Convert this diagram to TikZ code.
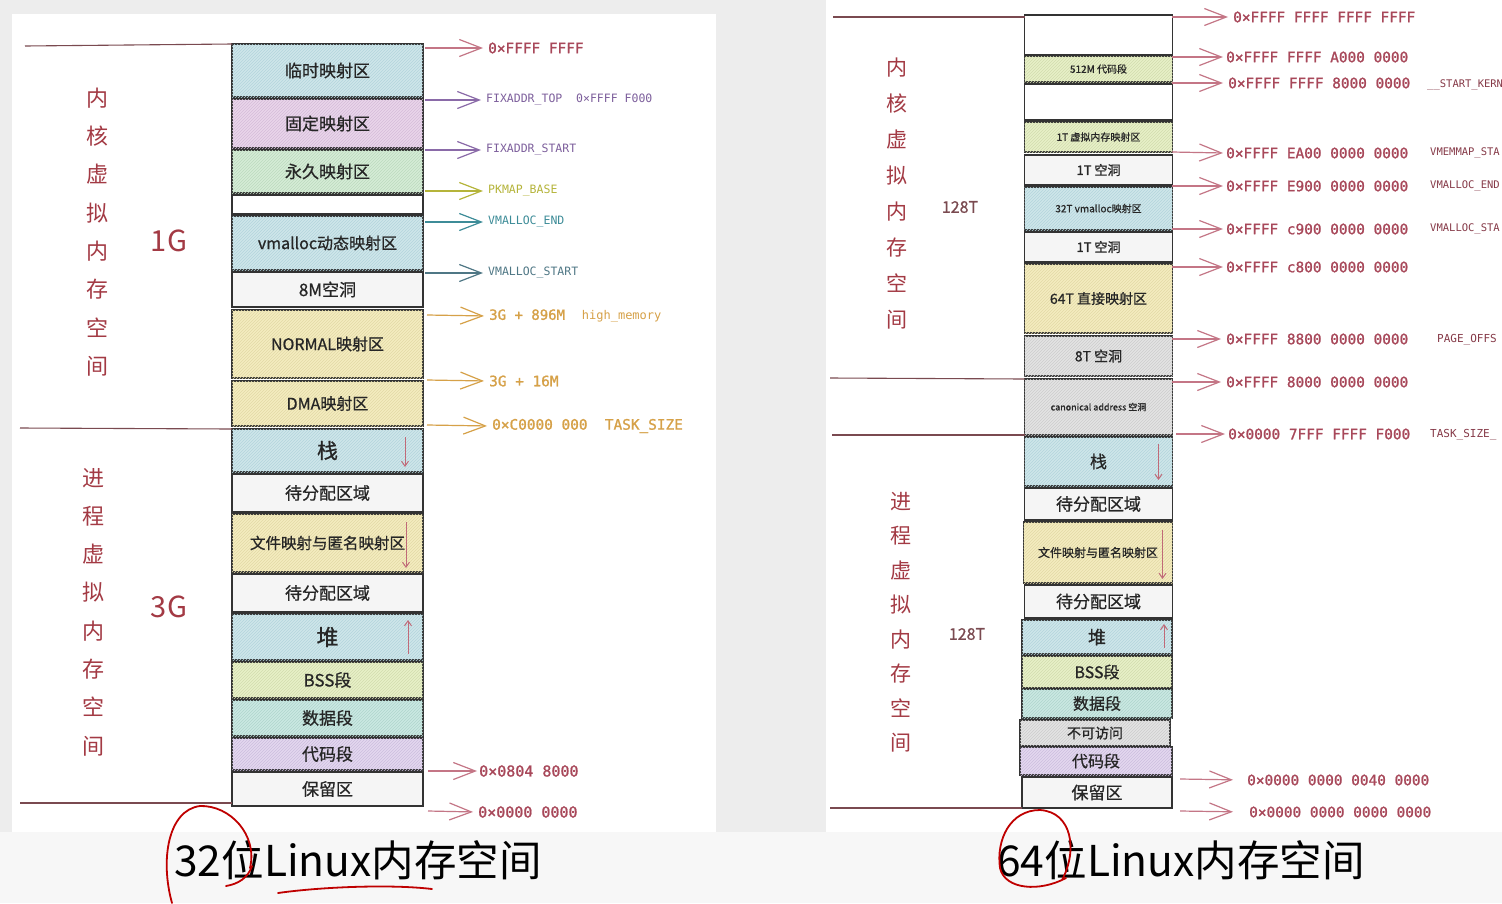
\documentclass[tikz,border=0pt]{standalone}
\usepackage{fontspec}
\usetikzlibrary{arrows.meta,patterns,calc}
\newfontfamily\cjk{Noto Sans CJK SC}
\newfontfamily\cjkb{Noto Sans CJK SC}[FakeBold=0.8]
\newfontfamily\monof{DejaVu Sans Mono}[FakeBold=1.2]
\newfontfamily\monol{DejaVu Sans Mono}
\definecolor{bg}{HTML}{EDEDED}
\definecolor{cblue}{HTML}{CFE6EA}
\definecolor{hblue}{HTML}{B3D4DC}
\definecolor{cpink}{HTML}{E9D6EA}
\definecolor{hpink}{HTML}{D5BCD9}
\definecolor{cgreen}{HTML}{D6ECD6}
\definecolor{hgreen}{HTML}{BCDABE}
\definecolor{cyel}{HTML}{F4ECC0}
\definecolor{hyel}{HTML}{E2D9A6}
\definecolor{cyg}{HTML}{E7F0C8}
\definecolor{hyg}{HTML}{D2DCAE}
\definecolor{cteal}{HTML}{CBE8E2}
\definecolor{hteal}{HTML}{AFD5CD}
\definecolor{cpurp}{HTML}{E3D8EF}
\definecolor{hpurp}{HTML}{CCBEDE}
\definecolor{cwhite}{HTML}{F5F5F5}
\definecolor{cgray}{HTML}{E3E3E3}
\definecolor{hgray}{HTML}{CDCDCD}
\definecolor{sred}{HTML}{A8485A}
\definecolor{ared}{HTML}{C47686}
\definecolor{spurp}{HTML}{7D5F9C}
\definecolor{apurp}{HTML}{8A6AA8}
\definecolor{sgold}{HTML}{B5B43A}
\definecolor{steal}{HTML}{3D8C98}
\definecolor{sslate}{HTML}{4F7785}
\definecolor{sorange}{HTML}{D6A148}
\definecolor{titred}{HTML}{A33A44}
\definecolor{divline}{HTML}{7A4A50}
\definecolor{inarr}{HTML}{C06A78}
\begin{document}
\begin{tikzpicture}[x=1pt,y=-1pt,
  blk/.style={draw=black!80, line width=1.3pt, inner sep=0pt, outer sep=0pt,
    text=black!85, font=\cjkb\fontsize{17}{17}\selectfont},
  hatch/.style={postaction={pattern=north east lines, pattern color=#1}},
  lw/.style={minimum width=191pt},
  rw/.style={minimum width=148pt},
  lab/.style={anchor=west, inner sep=2pt, font=\monof\fontsize{14.4}{14.4}\selectfont},
  slab/.style={anchor=west, inner sep=2pt, font=\monol\fontsize{11.5}{11.5}\selectfont},
  arr/.style={-{Straight Barb[length=22pt,width=17pt,line width=1.2pt]}, line width=1.2pt, shorten >=3pt},
  inar/.style={-{Straight Barb[length=5pt,width=7pt]}, line width=1pt, draw=inarr},
  divl/.style={draw=divline, line width=1.1pt},
  vtext/.style={align=center, text=titred, font=\cjk\fontsize{22}{38.3}\selectfont},
]
\useasboundingbox (0,0) rectangle (1502,903);
\fill[bg] (0,0) rectangle (1502,903);
\fill[white] (12,14) rectangle (716,832);
\fill[white] (826,0) rectangle (1502,832);
\fill[white!97!black] (0,832) rectangle (1502,903);

% ---------------- left column ----------------
\node[blk,lw,minimum height=53pt,fill=cblue,hatch=hblue] (k1) at (327.5,70.5) {临时映射区};
\node[blk,lw,minimum height=49pt,fill=cpink,hatch=hpink] (k2) at (327.5,123.5) {固定映射区};
\node[blk,lw,minimum height=43pt,fill=cgreen,hatch=hgreen] (k3) at (327.5,171.5) {永久映射区};
\node[blk,lw,minimum height=19pt,fill=white] (k4) at (327.5,204.5) {};
\node[blk,lw,minimum height=54pt,fill=cblue,hatch=hblue,font=\cjkb\fontsize{16}{16}\selectfont] (k5) at (327.5,243) {vmalloc动态映射区};
\node[blk,lw,minimum height=35pt,fill=cwhite] (k6) at (327.5,289.5) {8M空洞};
\node[blk,lw,minimum height=68pt,fill=cyel,hatch=hyel,font=\cjkb\fontsize{16}{16}\selectfont] (k7) at (327.5,344) {NORMAL映射区};
\node[blk,lw,minimum height=45pt,fill=cyel,hatch=hyel,font=\cjkb\fontsize{16}{16}\selectfont] (k8) at (327.5,403.5) {DMA映射区};
\node[blk,lw,minimum height=43pt,fill=cblue,hatch=hblue,font=\cjkb\fontsize{21}{21}\selectfont] (u1) at (327.5,450.5) {栈};
\node[blk,lw,minimum height=38pt,fill=cwhite] (u2) at (327.5,493) {待分配区域};
\node[blk,lw,minimum height=58pt,fill=cyel,hatch=hyel,font=\cjkb\fontsize{15.5}{15.5}\selectfont] (u3) at (327.5,543) {文件映射与匿名映射区\hspace{8pt}};
\node[blk,lw,minimum height=38pt,fill=cwhite] (u4) at (327.5,593) {待分配区域};
\node[blk,lw,minimum height=46pt,fill=cblue,hatch=hblue,font=\cjkb\fontsize{22}{22}\selectfont] (u5) at (327.5,637) {堆};
\node[blk,lw,minimum height=36pt,fill=cyg,hatch=hyg] (u6) at (327.5,680) {BSS段};
\node[blk,lw,minimum height=36pt,fill=cteal,hatch=hteal] (u7) at (327.5,718) {数据段};
\node[blk,lw,minimum height=32pt,fill=cpurp,hatch=hpurp] (u8) at (327.5,754) {代码段};
\node[blk,lw,minimum height=34pt,fill=cwhite] (u9) at (327.5,789) {保留区};

\draw[inar] ($(u1.north east)+(-18,8)$) -- ($(u1.south east)+(-18,-5)$);
\draw[inar] ($(u3.north east)+(-17,8)$) -- ($(u3.south east)+(-17,-4)$);
\draw[inar] ($(u5.south east)+(-15,-6)$) -- ($(u5.north east)+(-15,6)$);

% left dividers
\coordinate (ld1a) at (25,46);  \draw[divl] (ld1a) -- (k1.north west);
\coordinate (ld2a) at (20,428); \draw[divl] (ld2a) -- (u1.north west);
\coordinate (ld3a) at (20,803); \draw[divl] (ld3a) -- ($(u9.south west)+(0,-3)$);

% left side texts
\node[vtext] (lk) at (97,232) {内\\核\\虚\\拟\\内\\存\\空\\间};
\node[vtext] (lp) at (93,612) {进\\程\\虚\\拟\\内\\存\\空\\间};
\node[text=titred,font=\cjk\fontsize{29}{29}\selectfont] (g1) at (169,241) {1G};
\node[text=titred,font=\cjk\fontsize{29}{29}\selectfont] (g3) at (169,607) {3G};

% left address arrows
\coordinate (a1) at (425,48);  \node[lab,text=sred] (l1) at (486,48) {0×FFFF FFFF};
\draw[arr,draw=ared] (a1) -- (l1.west);
\coordinate (a2) at (425,100); \node[slab,text=spurp] (l2) at (484,100) {FIXADDR\_TOP\ \ 0×FFFF F000};
\draw[arr,draw=apurp] (a2) -- (l2.west);
\coordinate (a3) at (425,150); \node[slab,text=spurp] (l3) at (484,150) {FIXADDR\_START};
\draw[arr,draw=apurp] (a3) -- (l3.west);
\coordinate (a4) at (425,191); \node[slab,text=sgold] (l4) at (486,191) {PKMAP\_BASE};
\draw[arr,draw=sgold] (a4) -- (l4.west);
\coordinate (a5) at (425,222); \node[slab,text=steal] (l5) at (486,222) {VMALLOC\_END};
\draw[arr,draw=steal] (a5) -- (l5.west);
\coordinate (a6) at (425,273); \node[slab,text=sslate] (l6) at (486,273) {VMALLOC\_START};
\draw[arr,draw=sslate] (a6) -- (l6.west);
\coordinate (a7) at (427,315); \node[lab,text=sorange,font=\monof\fontsize{14}{14}\selectfont] (l7) at (487,316) {3G + 896M\ \ {\monol\fontsize{12}{12}\selectfont high\_memory}};
\draw[arr,draw=sorange] (a7) -- (l7.west);
\coordinate (a8) at (427,380); \node[lab,text=sorange] (l8) at (487,381) {3G + 16M};
\draw[arr,draw=sorange] (a8) -- (l8.west);
\coordinate (a9) at (427,425); \node[lab,text=sorange] (l9) at (490,426) {0×C0000 000\ \ TASK\_SIZE};
\draw[arr,draw=sorange] (a9) -- (l9.west);
\coordinate (a10) at (428,771); \node[lab,text=sred,font=\monof\fontsize{15}{15}\selectfont] (l10) at (477,771) {0×0804 8000};
\draw[arr,draw=ared,shorten >=0pt] (a10) -- (l10.west);
\coordinate (a11) at (428,811); \node[lab,text=sred,font=\monof\fontsize{15}{15}\selectfont] (l11) at (476,812) {0×0000 0000};
\draw[arr,draw=ared] (a11) -- (l11.west);

% ---------------- right column ----------------
\node[blk,rw,minimum height=40pt,fill=white] (r1) at (1098.5,35) {};
\node[blk,rw,minimum height=26pt,fill=cyg,hatch=hyg,font=\cjkb\fontsize{10}{10}\selectfont] (r2) at (1098.5,69) {512M 代码段};
\node[blk,rw,minimum height=36pt,fill=white] (r3) at (1098.5,102) {};
\node[blk,rw,minimum height=30pt,fill=cyg,hatch=hyg,font=\cjkb\fontsize{10}{10}\selectfont] (r4) at (1098.5,137) {1T 虚拟内存映射区};
\node[blk,rw,minimum height=30pt,fill=cwhite,font=\cjkb\fontsize{13}{13}\selectfont] (r5) at (1098.5,170) {1T 空洞};
\node[blk,rw,minimum height=43pt,fill=cblue,hatch=hblue,font=\cjkb\fontsize{10}{10}\selectfont] (r6) at (1098.5,208.5) {32T vmalloc映射区};
\node[blk,rw,minimum height=30pt,fill=cwhite,font=\cjkb\fontsize{13}{13}\selectfont] (r7) at (1098.5,247) {1T 空洞};
\node[blk,rw,minimum height=69pt,fill=cyel,hatch=hyel,font=\cjkb\fontsize{14}{14}\selectfont] (r8) at (1098.5,298.5) {64T 直接映射区};
\node[blk,rw,minimum height=40pt,fill=cgray,hatch=hgray,font=\cjkb\fontsize{14}{14}\selectfont] (r9) at (1098.5,356) {8T 空洞};
\node[blk,rw,minimum height=56pt,fill=cgray,hatch=hgray,font=\cjkb\fontsize{9}{9}\selectfont] (r10) at (1098.5,407) {canonical address 空洞};
\node[blk,rw,minimum height=49pt,fill=cblue,hatch=hblue,font=\cjkb\fontsize{17}{17}\selectfont] (p1) at (1098.5,461.5) {栈};
\node[blk,rw,minimum height=32pt,fill=cwhite] (p2) at (1098.5,504) {待分配区域};
\node[blk,minimum width=149pt,minimum height=61pt,fill=cyel,hatch=hyel,font=\cjkb\fontsize{12}{12}\selectfont] (p3) at (1098,552.5) {文件映射与匿名映射区\hspace{18pt}};
\node[blk,rw,minimum height=33pt,fill=cwhite] (p4) at (1098.5,601.5) {待分配区域};
\node[blk,minimum width=150pt,minimum height=34pt,fill=cblue,hatch=hblue,font=\cjkb\fontsize{18}{18}\selectfont] (p5) at (1097,637) {堆};
\node[blk,minimum width=150pt,minimum height=32pt,fill=cyg,hatch=hyg,font=\cjkb\fontsize{16}{16}\selectfont] (p6) at (1097,672) {BSS段};
\node[blk,minimum width=150pt,minimum height=29pt,fill=cteal,hatch=hteal,font=\cjkb\fontsize{16}{16}\selectfont] (p7) at (1097,703.5) {数据段};
\node[blk,minimum width=150pt,minimum height=26pt,fill=cgray,hatch=hgray,font=\cjkb\fontsize{14}{14}\selectfont] (p8) at (1095,733) {不可访问};
\node[blk,minimum width=152pt,minimum height=28pt,fill=cpurp,hatch=hpurp,font=\cjkb\fontsize{16}{16}\selectfont] (p9) at (1096,761) {代码段};
\node[blk,minimum width=150pt,minimum height=31pt,fill=cwhite] (p10) at (1097,792.5) {保留区};

\draw[inar] ($(p1.north east)+(-14,7)$) -- ($(p1.south east)+(-14,-6)$);
\draw[inar] ($(p3.north east)+(-10,8)$) -- ($(p3.south east)+(-10,-4)$);
\draw[inar] ($(p5.south east)+(-8,-6)$) -- ($(p5.north east)+(-8,4)$);

% right dividers
\coordinate (rd1a) at (833,17);  \draw[divl] (rd1a) -- ($(r1.north west)+(0,2)$);
\coordinate (rd2a) at (830,378); \draw[divl] (rd2a) -- (r10.north west);
\coordinate (rd3a) at (832,435); \draw[divl] (rd3a) -- (r10.south west);
\coordinate (rd4a) at (830,808); \draw[divl] (rd4a) -- (p10.south west);

% right side texts
\node[vtext,font=\cjk\fontsize{21}{36}\selectfont] (rk) at (897,194) {内\\核\\虚\\拟\\内\\存\\空\\间};
\node[vtext,font=\cjk\fontsize{21}{34.5}\selectfont] (rp) at (901,622) {进\\程\\虚\\拟\\内\\存\\空\\间};
\node[text=divline,font=\cjkb\fontsize{16}{16}\selectfont] (t1) at (960,207) {128T};
\node[text=divline,font=\cjkb\fontsize{16}{16}\selectfont] (t2) at (967,634) {128T};

% right address arrows
\coordinate (b1) at (1172,17);  \node[lab,text=sred] (m1) at (1231,17) {0×FFFF FFFF FFFF FFFF};
\draw[arr,draw=ared] (b1) -- (m1.west);
\coordinate (b2) at (1172,57);  \node[lab,text=sred] (m2) at (1224,57) {0×FFFF FFFF A000 0000};
\draw[arr,draw=ared,shorten >=1pt] (b2) -- (m2.west);
\coordinate (b3) at (1172,83);  \node[lab,text=sred] (m3) at (1226,83) {0×FFFF FFFF 8000 0000};
\draw[arr,draw=ared] (b3) -- (m3.west);
\node[slab,text=sred!80!black,font=\monol\fontsize{10.5}{10.5}\selectfont] (n3) at (1425,85) {\_\_START\_KERN};
\coordinate (b4) at (1172,152); \node[lab,text=sred] (m4) at (1224,153) {0×FFFF EA00 0000 0000};
\draw[arr,draw=ared,shorten >=1pt] (b4) -- (m4.west);
\node[slab,text=sred!80!black,font=\monol\fontsize{10.5}{10.5}\selectfont] (n4) at (1428,153) {VMEMMAP\_STA};
\coordinate (b5) at (1172,186); \node[lab,text=sred] (m5) at (1224,186) {0×FFFF E900 0000 0000};
\draw[arr,draw=ared,shorten >=1pt] (b5) -- (m5.west);
\node[slab,text=sred!80!black,font=\monol\fontsize{10.5}{10.5}\selectfont] (n5) at (1428,186) {VMALLOC\_END};
\coordinate (b6) at (1172,229); \node[lab,text=sred] (m6) at (1224,229) {0×FFFF c900 0000 0000};
\draw[arr,draw=ared,shorten >=1pt] (b6) -- (m6.west);
\node[slab,text=sred!80!black,font=\monol\fontsize{10.5}{10.5}\selectfont] (n6) at (1428,229) {VMALLOC\_STA};
\coordinate (b7) at (1172,267); \node[lab,text=sred] (m7) at (1224,267) {0×FFFF c800 0000 0000};
\draw[arr,draw=ared,shorten >=1pt] (b7) -- (m7.west);
\coordinate (b8) at (1172,339); \node[lab,text=sred] (m8) at (1224,339) {0×FFFF 8800 0000 0000};
\draw[arr,draw=ared] (b8) -- (m8.west);
\node[slab,text=sred!80!black,font=\monol\fontsize{11}{11}\selectfont] (n8) at (1435,340) {PAGE\_OFFS};
\coordinate (b9) at (1172,382); \node[lab,text=sred] (m9) at (1224,382) {0×FFFF 8000 0000 0000};
\draw[arr,draw=ared] (b9) -- (m9.west);
\coordinate (b10) at (1176,434); \node[lab,text=sred] (m10) at (1226,434) {0×0000 7FFF FFFF F000};
\draw[arr,draw=ared,shorten >=1pt] (b10) -- (m10.west);
\node[slab,text=sred!80!black,font=\monol\fontsize{11}{11}\selectfont] (n10) at (1428,435) {TASK\_SIZE\_};
\coordinate (b11) at (1180,779); \node[lab,text=sred] (m11) at (1245,780) {0×0000 0000 0040 0000};
\draw[arr,draw=ared,shorten >=12pt] (b11) -- (m11.west);
\coordinate (b12) at (1180,811); \node[lab,text=sred] (m12) at (1247,812) {0×0000 0000 0000 0000};
\draw[arr,draw=ared,shorten >=14pt] (b12) -- (m12.west);

% titles
\node[font=\cjk\fontsize{42.5}{42.5}\selectfont,text=black] (title32) at (358,860) {32位Linux内存空间};
\node[font=\cjk\fontsize{42.5}{42.5}\selectfont,text=black] (title64) at (1181,860) {64位Linux内存空间};

% red pen annotations
\draw[red!75!black, line width=1.8pt, line cap=round]
  (250,868) .. controls (258,835) and (230,805) .. (200,806)
  .. controls (168,810) and (160,860) .. (172,903);
\draw[red!75!black, line width=1.8pt, line cap=round]
  (252,866) .. controls (248,878) and (238,884) .. (226,886);
\draw[red!75!black, line width=1.8pt, line cap=round]
  (278,893) .. controls (320,887) and (390,884) .. (432,889);
\draw[red!75!black, line width=1.8pt, line cap=round]
  (1062,880) .. controls (1078,850) and (1072,812) .. (1040,810)
  .. controls (1010,810) and (996,840) .. (1000,868)
  .. controls (1005,890) and (1040,892) .. (1066,878);
\end{tikzpicture}
\end{document}
